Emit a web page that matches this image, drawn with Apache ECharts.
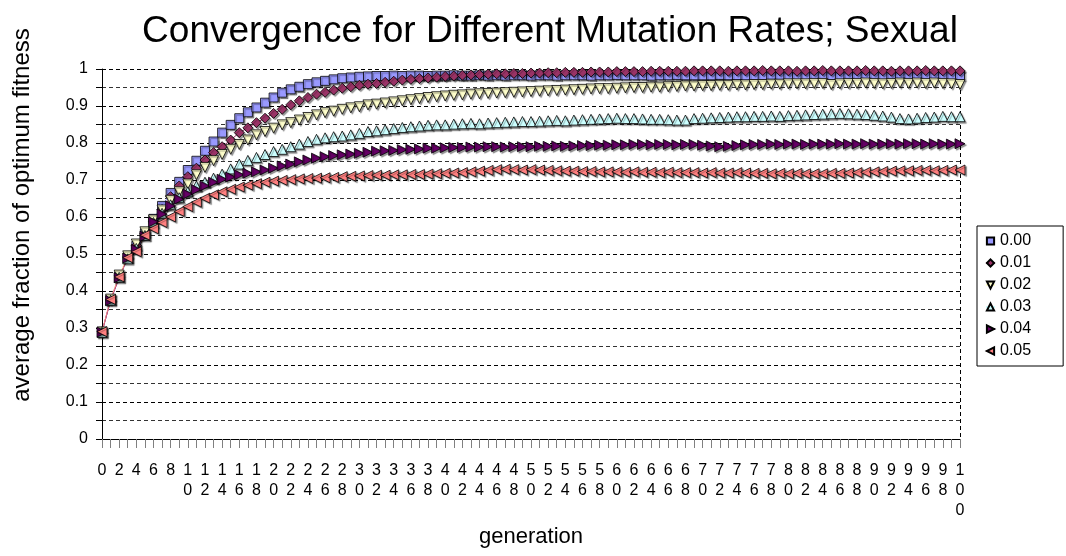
<!DOCTYPE html>
<html>
<head>
<meta charset="utf-8">
<title>Convergence for Different Mutation Rates; Sexual</title>
<script src="https://cdn.jsdelivr.net/npm/echarts@6/dist/echarts.min.js"></script>
<style>
html, body { margin: 0; padding: 0; background: #fff; }
#chart { width: 1066px; height: 556px; }
</style>
</head>
<body>
<div id="chart"></div>
<script>
// generations 0..100
var generations = [];
for (var g = 0; g <= 100; g++) generations.push(String(g));

var rateNames = ['0.00', '0.01', '0.02', '0.03', '0.04', '0.05'];

// values, generation 0..100
var rate000 = [
  0.290, 0.376, 0.440, 0.490, 0.522, 0.556, 0.595, 0.630, 0.665, 0.695,
  0.727, 0.752, 0.779, 0.804, 0.828, 0.849, 0.867, 0.883, 0.896, 0.909,
  0.923, 0.936, 0.945, 0.952, 0.959, 0.964, 0.968, 0.972, 0.975, 0.977, 0.979, 0.980, 0.981,
  0.981, 0.982, 0.981, 0.982, 0.982, 0.981, 0.982, 0.982, 0.983, 0.982, 0.982, 0.983, 0.982, 0.983, 0.982, 0.983, 0.983, 0.982,
  0.983, 0.983, 0.982, 0.983, 0.983, 0.983, 0.982, 0.983, 0.983, 0.984, 0.983, 0.983, 0.983, 0.982, 0.983, 0.983, 0.984, 0.983, 0.983, 0.983,
  0.983, 0.984, 0.983, 0.983, 0.982, 0.983, 0.983, 0.984, 0.983, 0.983, 0.983, 0.982, 0.983, 0.984, 0.983,
  0.983, 0.983, 0.983, 0.984, 0.983, 0.983, 0.982, 0.983, 0.983, 0.984, 0.983, 0.983, 0.983, 0.983, 0.983
];
var rate001 = [
  0.290, 0.376, 0.441, 0.492, 0.523, 0.555, 0.588, 0.620, 0.655, 0.684,
  0.709, 0.732, 0.754, 0.774, 0.790, 0.808, 0.828, 0.841, 0.855, 0.867,
  0.880, 0.891, 0.903, 0.914, 0.923, 0.932, 0.937, 0.943, 0.948, 0.952, 0.956, 0.959, 0.961,
  0.964, 0.967, 0.970, 0.972, 0.974, 0.976, 0.978, 0.980, 0.981, 0.983, 0.984, 0.985, 0.986, 0.987, 0.987, 0.988, 0.988, 0.989,
  0.989, 0.990, 0.990, 0.991, 0.991, 0.991, 0.992, 0.992, 0.992, 0.993, 0.993, 0.993, 0.993, 0.994, 0.994, 0.994, 0.994, 0.994, 0.995, 0.995,
  0.995, 0.995, 0.994, 0.995, 0.995, 0.995, 0.996, 0.995, 0.995, 0.995, 0.994, 0.995, 0.995, 0.996, 0.995,
  0.995, 0.995, 0.995, 0.996, 0.995, 0.995, 0.994, 0.995, 0.995, 0.995, 0.996, 0.995, 0.995, 0.995, 0.995
];
var rate002 = [
  0.289, 0.378, 0.443, 0.495, 0.527, 0.560, 0.592, 0.619, 0.645, 0.668,
  0.689, 0.714, 0.734, 0.752, 0.769, 0.783, 0.796, 0.808, 0.822, 0.831,
  0.840, 0.849, 0.855, 0.862, 0.869, 0.876, 0.882, 0.886, 0.891, 0.895, 0.898, 0.903, 0.905,
  0.908, 0.911, 0.914, 0.917, 0.920, 0.923, 0.925, 0.927, 0.929, 0.930, 0.932, 0.933, 0.934, 0.935, 0.936, 0.937, 0.938, 0.939,
  0.940, 0.941, 0.942, 0.943, 0.944, 0.945, 0.946, 0.947, 0.947, 0.948, 0.949, 0.950, 0.950, 0.951, 0.951, 0.952, 0.953, 0.954, 0.954, 0.955,
  0.955, 0.956, 0.956, 0.957, 0.957, 0.958, 0.958, 0.959, 0.959, 0.960, 0.960, 0.960, 0.961, 0.961, 0.958,
  0.960, 0.961, 0.961, 0.962, 0.961, 0.960, 0.961, 0.962, 0.961, 0.962, 0.961, 0.962, 0.961, 0.960, 0.958
];
var rate003 = [
  0.288, 0.375, 0.437, 0.487, 0.515, 0.550, 0.585, 0.610, 0.633, 0.652,
  0.668, 0.684, 0.694, 0.705, 0.716, 0.730, 0.743, 0.753, 0.761, 0.769,
  0.777, 0.783, 0.790, 0.797, 0.804, 0.810, 0.814, 0.817, 0.819, 0.822, 0.826, 0.831, 0.833,
  0.836, 0.839, 0.842, 0.844, 0.846, 0.848, 0.849, 0.849, 0.851, 0.852, 0.853, 0.852, 0.854, 0.855, 0.856, 0.857, 0.858, 0.858,
  0.859, 0.860, 0.861, 0.860, 0.862, 0.863, 0.864, 0.865, 0.866, 0.867, 0.866, 0.866, 0.865, 0.864, 0.864, 0.863, 0.862, 0.862, 0.866, 0.867,
  0.868, 0.869, 0.870, 0.871, 0.871, 0.872, 0.872, 0.873, 0.872, 0.874, 0.875, 0.876, 0.877, 0.878, 0.879,
  0.880, 0.879, 0.878, 0.877, 0.875, 0.873, 0.870, 0.866, 0.865, 0.867, 0.869, 0.870, 0.872, 0.871, 0.871
];
var rate004 = [
  0.289, 0.374, 0.436, 0.489, 0.512, 0.548, 0.587, 0.608, 0.630, 0.648,
  0.662, 0.674, 0.684, 0.694, 0.702, 0.708, 0.714, 0.718, 0.722, 0.727,
  0.732, 0.738, 0.743, 0.749, 0.754, 0.759, 0.763, 0.766, 0.768, 0.770, 0.772, 0.775, 0.778,
  0.779, 0.780, 0.782, 0.783, 0.784, 0.786, 0.786, 0.787, 0.788, 0.788, 0.789, 0.789, 0.790, 0.790, 0.789, 0.790, 0.790, 0.790,
  0.791, 0.791, 0.792, 0.791, 0.792, 0.793, 0.793, 0.794, 0.794, 0.795, 0.795, 0.796, 0.796, 0.795, 0.796, 0.796, 0.795, 0.796, 0.796, 0.794,
  0.792, 0.790, 0.791, 0.793, 0.795, 0.796, 0.796, 0.797, 0.796, 0.797, 0.797, 0.796, 0.797, 0.797, 0.797,
  0.798, 0.797, 0.797, 0.798, 0.797, 0.797, 0.798, 0.797, 0.798, 0.798, 0.797, 0.798, 0.797, 0.797, 0.798
];
var rate005 = [
  0.290, 0.377, 0.438, 0.490, 0.506, 0.551, 0.568, 0.585, 0.600, 0.615,
  0.628, 0.640, 0.651, 0.660, 0.668, 0.675, 0.681, 0.686, 0.690, 0.694,
  0.697, 0.699, 0.701, 0.703, 0.704, 0.705, 0.706, 0.707, 0.709, 0.710, 0.711, 0.712, 0.713,
  0.713, 0.714, 0.714, 0.715, 0.715, 0.716, 0.717, 0.718, 0.719, 0.720, 0.722, 0.724, 0.726, 0.728, 0.729, 0.728, 0.727, 0.728,
  0.727, 0.726, 0.725, 0.724, 0.724, 0.723, 0.723, 0.722, 0.722, 0.722, 0.721, 0.722, 0.721, 0.721, 0.720, 0.721, 0.720, 0.720, 0.720, 0.719,
  0.720, 0.719, 0.719, 0.720, 0.719, 0.718, 0.718, 0.717, 0.718, 0.717, 0.718, 0.717, 0.717, 0.717, 0.718,
  0.718, 0.719, 0.720, 0.721, 0.722, 0.723, 0.724, 0.725, 0.725, 0.726, 0.726, 0.725, 0.726, 0.727, 0.727
];

var rateValues = [rate000, rate001, rate002, rate003, rate004, rate005];

var fills = ['#9999ff', '#993366', '#ffffcc', '#ccffff', '#660066', '#ff8080'];
var symbols = [
  'rect',
  'diamond',
  'path://M0,0L10,0L5,10Z',
  'triangle',
  'path://M0,0L10,5L0,10Z',
  'path://M10,0L0,5L10,10Z'
];
var sizes = [9, 10, 10, 10, 10, 10];

var font = 'Liberation Sans, Arial, sans-serif';

var series = rateNames.map(function (name, i) {
  return {
    name: name,
    type: 'line',
    data: rateValues[i],
    symbol: symbols[i],
    symbolSize: sizes[i],
    showAllSymbol: true,
    lineStyle: { width: 1, color: fills[i] },
    itemStyle: {
      color: fills[i],
      borderColor: '#000',
      borderWidth: 0.8,
      shadowColor: 'rgba(0,0,0,0.4)',
      shadowOffsetX: 1.5,
      shadowOffsetY: 1.5,
      shadowBlur: 1
    },
    emphasis: { disabled: true }
  };
});

var chart = echarts.init(document.getElementById('chart'));
chart.setOption({
  animation: false,
  backgroundColor: '#fff',
  textStyle: { fontFamily: font, color: '#000' },
  title: {
    text: 'Convergence for Different Mutation Rates; Sexual',
    left: 545,
    textAlign: 'center',
    top: 8,
    textStyle: { fontFamily: font, fontSize: 37, fontWeight: 'normal', color: '#000' }
  },
  legend: {
    orient: 'vertical',
    left: 977,
    top: 226,
    padding: [7, 32, 7, 8],
    itemGap: 6,
    itemWidth: 9,
    itemHeight: 9,
    borderColor: '#000',
    borderWidth: 1,
    textStyle: { fontFamily: font, fontSize: 16, lineHeight: 16, color: '#000' },
    data: rateNames
  },
  grid: { left: 102, right: 106, top: 69, bottom: 117, containLabel: false },
  graphic: [{
    type: 'text',
    x: 22,
    y: 215,
    rotation: Math.PI / 2,
    style: {
      text: 'average fraction of optimum fitness',
      font: '24px ' + font,
      fill: '#000',
      textAlign: 'center',
      textVerticalAlign: 'middle'
    }
  }],
  xAxis: {
    type: 'category',
    data: generations,
    boundaryGap: false,
    name: 'generation',
    nameLocation: 'middle',
    nameGap: 87,
    nameTextStyle: { fontFamily: font, fontSize: 22, color: '#000' },
    axisLine: { lineStyle: { color: '#000', width: 1 } },
    axisTick: { interval: 0, length: 9, lineStyle: { color: '#808080' } },
    axisLabel: {
      interval: 1,
      margin: 22,
      fontSize: 16,
      lineHeight: 20,
      color: '#000',
      fontFamily: font,
      formatter: function (v) { return String(v).split('').join('\n'); }
    },
    splitLine: {
      show: true,
      interval: function (index) { return index === generations.length - 1; },
      lineStyle: { color: '#000', type: [4, 3], width: 1 }
    }
  },
  yAxis: {
    type: 'value',
    min: 0,
    max: 1,
    interval: 0.1,
    axisLine: { show: true, lineStyle: { color: '#000', width: 1 } },
    axisTick: { show: true, length: 6, lineStyle: { color: '#000' } },
    minorTick: { show: true, splitNumber: 2, length: 6, lineStyle: { color: '#000' } },
    axisLabel: { margin: 14, fontSize: 16, color: '#000', fontFamily: font },
    splitLine: { show: true, lineStyle: { color: '#000', type: [4, 3], width: 1 } },
    minorSplitLine: { show: true, lineStyle: { color: '#333', type: [4, 3], width: 1 } }
  },
  series: series
});
</script>
</body>
</html>
